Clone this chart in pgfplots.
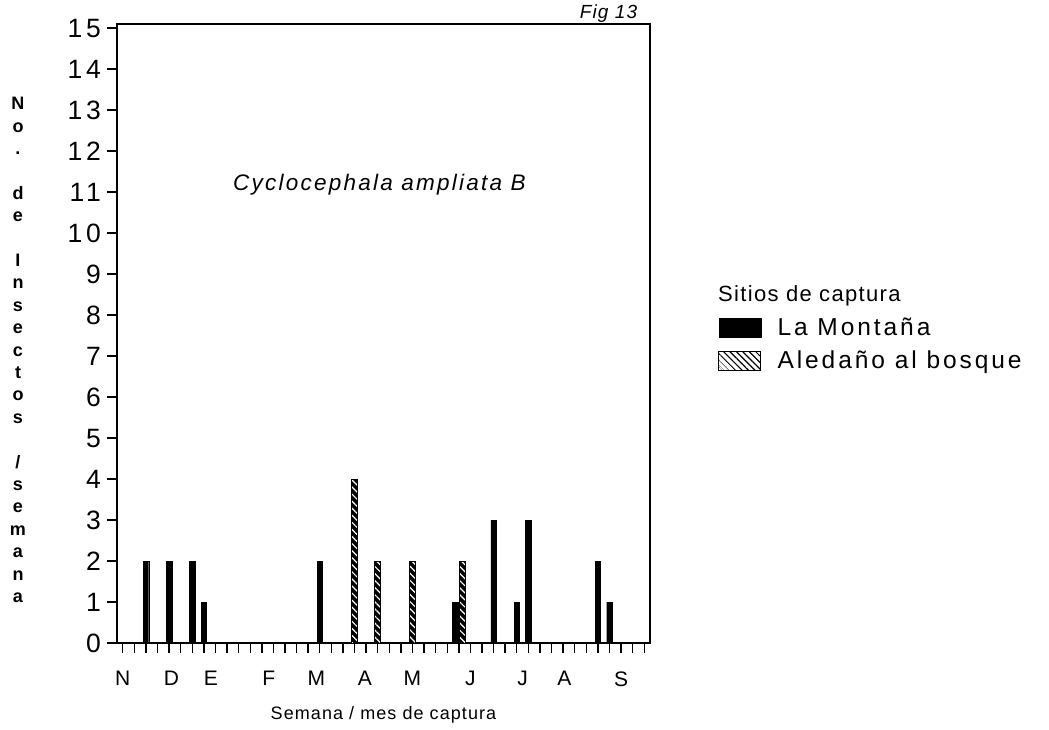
\documentclass[border=0pt]{standalone}
\usepackage{pgfplots}
\pgfplotsset{compat=1.18}
\usepackage{fontspec}
\setmainfont{Liberation Sans}[LetterSpace=6]
\newfontfamily\tickfont{Liberation Sans}[LetterSpace=14]
\newfontfamily\legfont{Liberation Sans}[LetterSpace=12]
\newfontfamily\titfont{Liberation Sans}[LetterSpace=10]
\newfontfamily\ylabfont{Liberation Sans Bold}[LetterSpace=0]
\usetikzlibrary{patterns,patterns.meta}
\begin{document}
\begin{tikzpicture}
\useasboundingbox (0,0) rectangle (1049pt,729pt);
\begin{axis}[
  at={(117pt,86pt)}, anchor=south west,
  scale only axis, width=533pt, height=619pt,
  xmin=-0.5, xmax=45.5, ymin=0, ymax=15.1,
  clip=false,
  axis line style={line width=1.6pt},
  every tick/.style={black, line width=1.4pt},
  tick align=outside, tick pos=left,
  major tick length=10pt,
  xtick={0,...,45}, xticklabels={},
  ytick={0,...,15},
  /pgf/number format/assume math mode=true,
  yticklabel style={font=\tickfont\fontsize{26.5}{28}\selectfont, inner sep=6pt},
  extra x ticks={0,4.2,7.6,12.6,16.7,20.9,25,30,34.5,38.1,43},
  extra x tick labels={N,D,E,F,M,A,M,J,J,A,S},
  extra x tick style={major tick length=0pt, tick style={draw=none},
    xticklabel style={font=\fontsize{21}{23}\selectfont, yshift=-25pt}},
  xlabel={Semana / mes de captura},
  xlabel style={at={(axis description cs:0.5,-0.116)}, anchor=center, font=\fontsize{18}{22}\selectfont},
  legend style={at={(axis description cs:1.1276,0.527)}, anchor=north west,
    draw=none, fill=none, font=\legfont\fontsize{24.5}{26}\selectfont,
    row sep=12pt, inner sep=0pt,
    nodes={inner sep=1pt},
    /tikz/every odd column/.append style={column sep=15pt}},
  legend cell align=left,
]
\addplot[ybar, bar width=5.5pt, bar shift=0pt, fill=black, draw=black,
  legend image code/.code={\draw[fill=black,draw=black] (0pt,-9.5pt) rectangle (42pt,9.5pt);}]
  coordinates {(2,2) (4,2) (6,2) (7,1) (17,2) (28.7,1) (32,3) (34,1) (35,3) (41,2) (42,1)};
\addlegendentry{La Montaña}
\addplot[ybar, bar width=6.5pt, bar shift=0pt, draw=black, line width=1pt, fill=black,
  postaction={pattern={Lines[angle=-45,distance=5pt,line width=1.2pt]}, pattern color=white},
  legend image code/.code={\draw[draw=black, line width=1pt, pattern={Lines[angle=-45,distance=4.5pt,line width=1.3pt]}, pattern color=black] (0pt,-9.5pt) rectangle (42pt,9.5pt);}]
  coordinates {(20,4) (22,2) (25,2) (29.3,2)};
\addlegendentry{Aledaño al bosque}
\node[font=\titfont\itshape\fontsize{22.5}{24}\selectfont] at (axis cs:22.15,11.17) {Cyclocephala ampliata B};
\node[font=\itshape\fontsize{19}{22}\selectfont, anchor=east] at (axis cs:44.7,15.36) {Fig 13};
\node[font=\fontsize{22}{24}\selectfont, anchor=west, inner sep=0pt] at (axis description cs:1.1276,0.5606) {Sitios de captura};
\end{axis}
\node[align=center, font=\ylabfont\fontsize{18}{22.4}\selectfont, inner sep=0pt] at (18pt,379pt)
  {N\\o\\.\\~\\d\\e\\~\\I\\n\\s\\e\\c\\t\\o\\s\\~\\/\\s\\e\\m\\a\\n\\a};
\end{tikzpicture}
\end{document}
